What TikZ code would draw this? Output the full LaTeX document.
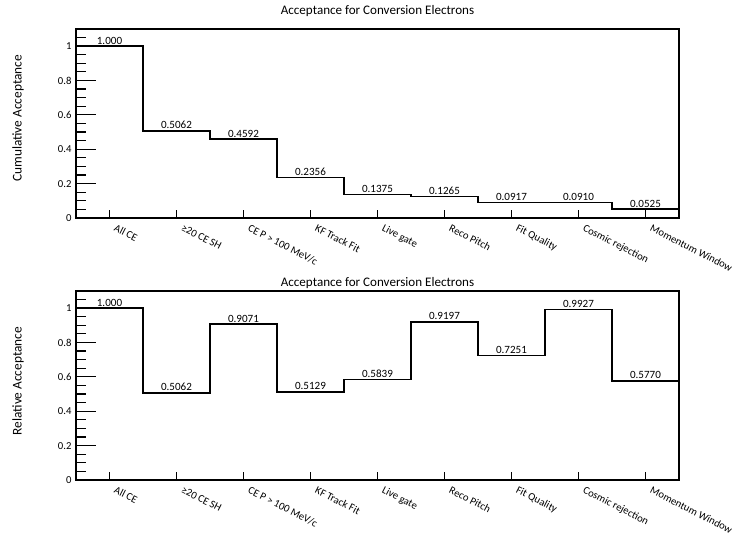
\documentclass[tikz,border=0pt]{standalone}
\usepackage{fontspec}
\setmainfont{Carlito}
\usepackage{tikz}
\usetikzlibrary{positioning,calc}

\begin{document}
\begin{tikzpicture}[x=50.25pt, y=129pt, thick]
% Define styles for the parts of the two plots
\tikzstyle{frame} = [draw, line width=1.3pt]
\tikzstyle{hist} = [draw, line width=1.1pt]
\tikzstyle{tick} = [draw, line width=0.9pt]
\tikzstyle{val} = [font=\fontsize{8.3}{9}\selectfont, anchor=south, inner sep=1pt]
\tikzstyle{ylab} = [font=\fontsize{8}{9}\selectfont, anchor=east, inner sep=1pt]
\tikzstyle{cut} = [font=\fontsize{8}{9}\selectfont, anchor=north west, rotate=-27, inner sep=0pt]
\tikzstyle{axtitle} = [font=\fontsize{10}{12}\selectfont, rotate=90]
\tikzstyle{plottitle} = [font=\fontsize{9.8}{11}\selectfont]

\useasboundingbox (0,0) rectangle (552pt,-402.75pt);

% Cumulative acceptance
\begin{scope}[shift={(57pt,-163.5pt)}]
\draw [frame] (0,0) rectangle (9,1.1);
\foreach \t in {1,...,21} \draw [tick] (0,\t*0.05) -- ++(7.5pt,0);
\foreach \t in {1,...,5} \draw [tick] (0,\t*0.2) -- ++(15pt,0);
\foreach \t [count=\k] in {0,0.2,0.4,0.6,0.8,1} \node [ylab] (cy\k) at ($(0,\t)+(-2pt,0)$) {\t};
\foreach \i in {1,...,9} \draw [tick] (\i-0.5,0) -- ++(0,6pt);

\draw [hist] (0,1.000) -| (1,0.5062) -| (2,0.4592) -| (3,0.2356) -| (4,0.1375)
  -| (5,0.1265) -| (6,0.0917) -| (7,0.0910) -| (8,0.0525) -- (9,0.0525);
\foreach \v [count=\i] in {1.000,0.5062,0.4592,0.2356,0.1375,0.1265,0.0917,0.0910,0.0525}
  \node [val] (cv\i) at (\i-0.5,\v) {\v};

\foreach \c [count=\i] in {All CE,≥20 CE SH,CE P > 100 MeV/c,KF Track Fit,Live gate,Reco Pitch,Fit Quality,Cosmic rejection,Momentum Window}
  \node [cut] (cc\i) at ($(\i-0.5,0)+(5.25pt,-4pt)$) {\c};

\node [axtitle] (cya) at ($(0,0.58)+(-43.5pt,0)$) {Cumulative Acceptance};
\node [plottitle] (ct) at (4.5,1.203) {Acceptance for Conversion Electrons};
\end{scope}

% Relative acceptance
\begin{scope}[shift={(57pt,-360pt)}]
\draw [frame] (0,0) rectangle (9,1.1);
\foreach \t in {1,...,21} \draw [tick] (0,\t*0.05) -- ++(7.5pt,0);
\foreach \t in {1,...,5} \draw [tick] (0,\t*0.2) -- ++(15pt,0);
\foreach \t [count=\k] in {0,0.2,0.4,0.6,0.8,1} \node [ylab] (ry\k) at ($(0,\t)+(-2pt,0)$) {\t};
\foreach \i in {1,...,9} \draw [tick] (\i-0.5,0) -- ++(0,6pt);

\draw [hist] (0,1.000) -| (1,0.5062) -| (2,0.9071) -| (3,0.5129) -| (4,0.5839)
  -| (5,0.9197) -| (6,0.7251) -| (7,0.9927) -| (8,0.5770) -- (9,0.5770);
\foreach \v [count=\i] in {1.000,0.5062,0.9071,0.5129,0.5839,0.9197,0.7251,0.9927,0.5770}
  \node [val] (rv\i) at (\i-0.5,\v) {\v};

\foreach \c [count=\i] in {All CE,≥20 CE SH,CE P > 100 MeV/c,KF Track Fit,Live gate,Reco Pitch,Fit Quality,Cosmic rejection,Momentum Window}
  \node [cut] (rc\i) at ($(\i-0.5,0)+(5.25pt,-4pt)$) {\c};

\node [axtitle] (rya) at ($(0,0.575)+(-43.5pt,0)$) {Relative Acceptance};
\node [plottitle] (rt) at (4.5,1.145) {Acceptance for Conversion Electrons};
\end{scope}

\end{tikzpicture}
\end{document}
